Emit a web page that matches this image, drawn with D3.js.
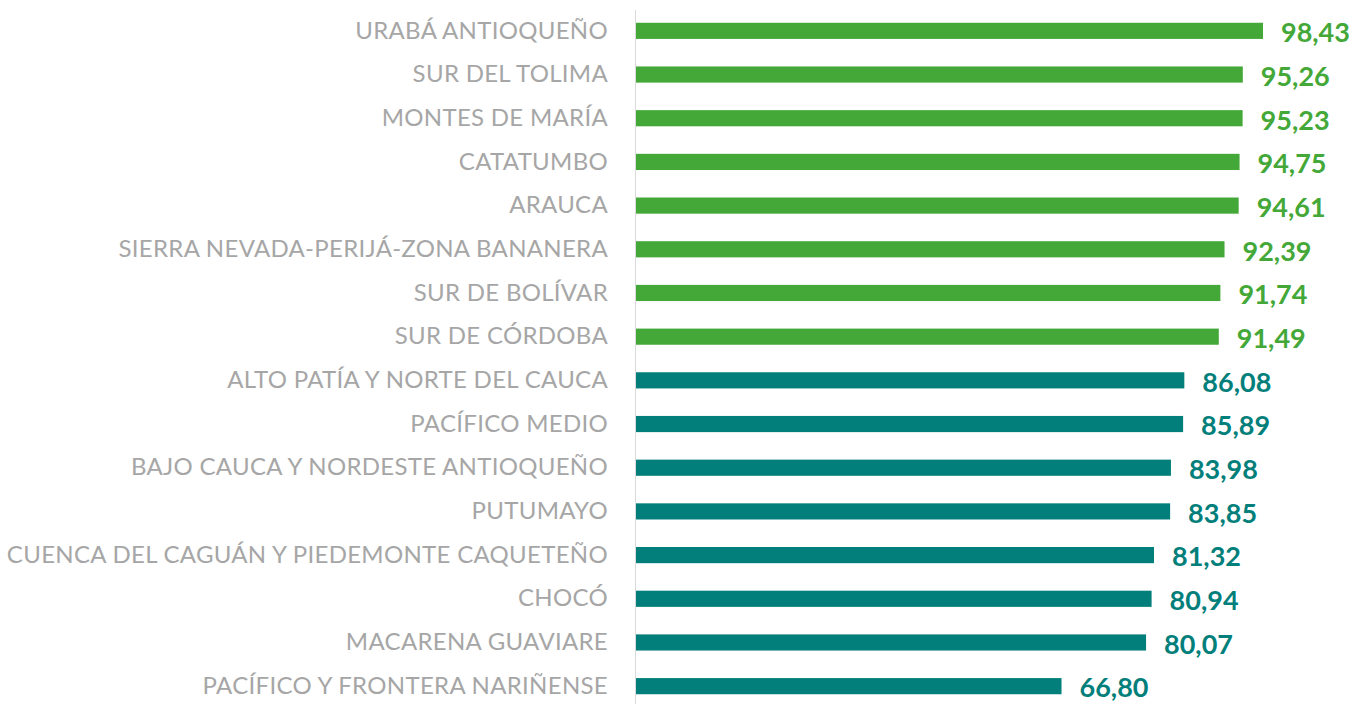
<!DOCTYPE html>
<html>
<head>
<meta charset="utf-8" />
<title>Regiones</title>
<script src="https://d3js.org/d3.v7.min.js"></script>
<style>
  body { margin: 0; background: #fff; }
  svg { display: block; }
  .label { font-family: Lato, sans-serif; font-size: 24px; letter-spacing: 0.3px; fill: #a6a6a6; }
  .value { font-family: Lato, sans-serif; font-size: 27px; font-weight: bold; }
</style>
</head>
<body>
<svg id="chart" width="1364" height="704"></svg>
<script>
// regions, top to bottom
const regions = [
  "URABÁ ANTIOQUEÑO",
  "SUR DEL TOLIMA",
  "MONTES DE MARÍA",
  "CATATUMBO",
  "ARAUCA",
  "SIERRA NEVADA-PERIJÁ-ZONA BANANERA",
  "SUR DE BOLÍVAR",
  "SUR DE CÓRDOBA",
  "ALTO PATÍA Y NORTE DEL CAUCA",
  "PACÍFICO MEDIO",
  "BAJO CAUCA Y NORDESTE ANTIOQUEÑO",
  "PUTUMAYO",
  "CUENCA DEL CAGUÁN Y PIEDEMONTE CAQUETEÑO",
  "CHOCÓ",
  "MACARENA GUAVIARE",
  "PACÍFICO Y FRONTERA NARIÑENSE"
];
const values = [98.43, 95.26, 95.23, 94.75, 94.61, 92.39, 91.74, 91.49,
                86.08, 85.89, 83.98, 83.85, 81.32, 80.94, 80.07, 66.80];
// first 8 are green, rest teal
const groups = ["alto", "alto", "alto", "alto", "alto", "alto", "alto", "alto",
                "bajo", "bajo", "bajo", "bajo", "bajo", "bajo", "bajo", "bajo"];

const color = d3.scaleOrdinal().domain(["alto", "bajo"]).range(["#44a838", "#037f7b"]);

const data = regions.map((r, i) => ({ region: r, value: values[i], group: groups[i] }));

const svg = d3.select("#chart");

const x = d3.scaleLinear().domain([0, 100]).range([636, 1273]);
const y = d3.scaleBand().domain(regions).range([9, 708]).paddingInner(0.63).paddingOuter(0.315);

// bars
svg.selectAll(".bar")
  .data(data)
  .enter()
  .append("rect")
  .attr("class", "bar")
  .attr("x", x(0))
  .attr("y", d => y(d.region))
  .attr("width", d => x(d.value) - x(0))
  .attr("height", y.bandwidth())
  .attr("fill", d => color(d.group));

// vertical axis line with category labels
const yAxis = d3.axisLeft(y).tickSize(0).tickPadding(27);
const gy = svg.append("g")
  .attr("transform", `translate(${x(0) - 1},0)`)
  .call(yAxis);
gy.attr("font-size", null).attr("font-family", null);
gy.select(".domain").attr("stroke", "#d9d9d9").attr("d", "M0.5,10V704");
gy.selectAll("text").attr("class", "label").attr("fill", null);

// value labels
svg.selectAll(".value")
  .data(data)
  .enter()
  .append("text")
  .attr("class", "value")
  .attr("x", d => x(d.value) + 18)
  .attr("y", d => y(d.region) + y.bandwidth() / 2)
  .attr("dy", "0.42em")
  .attr("fill", d => color(d.group))
  .text(d => d.value.toFixed(2).replace(".", ","));
</script>
</body>
</html>
